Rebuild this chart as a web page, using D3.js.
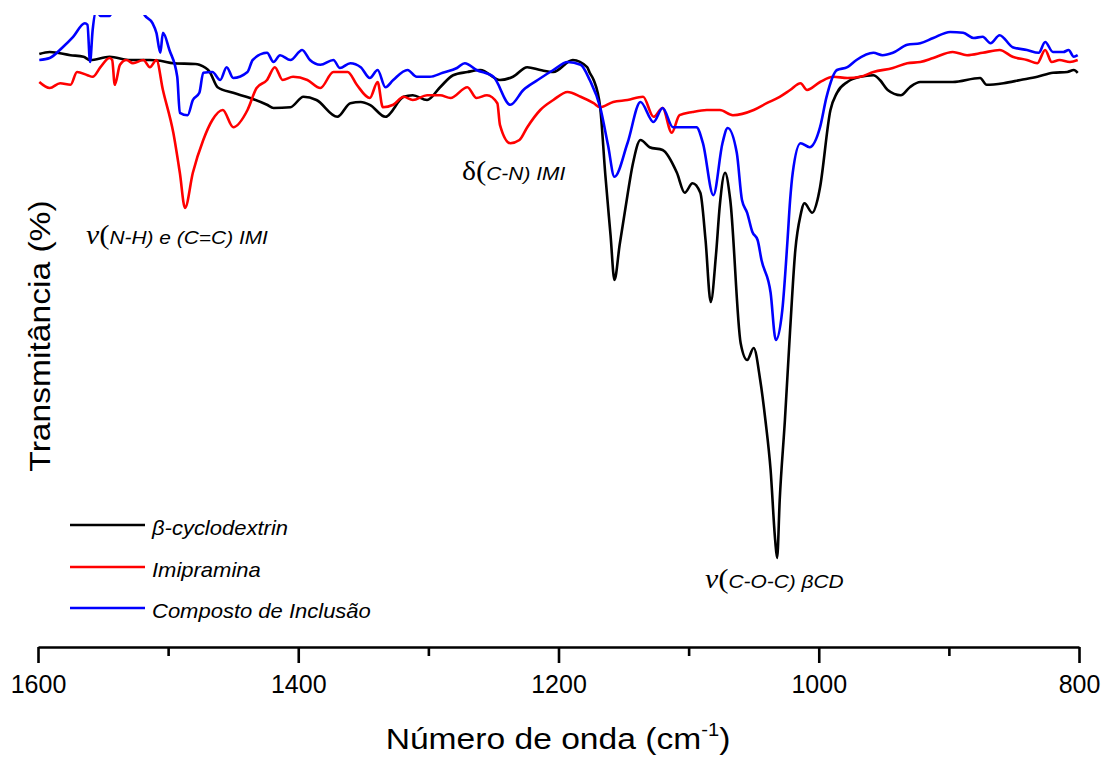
<!DOCTYPE html>
<html>
<head>
<meta charset="utf-8">
<script src="https://cdn.jsdelivr.net/npm/d3@7"></script>
<style>
  html, body { margin: 0; padding: 0; background: #fff; }
  svg { display: block; }
  text { font-family: "Liberation Sans", Arial, sans-serif; fill: #000; }
</style>
</head>
<body>
<svg id="chart" width="1103" height="760"></svg>
<script>
// FTIR spectra, 1600–800 cm-1 (wavenumber, transmittance in arbitrary %)
const seriesNames = ["β-cyclodextrin", "Imipramina", "Composto de Inclusão"];
const seriesColors = ["#000000", "#ff0000", "#0000ff"];

const betaCD = [
  [1599,74.25],[1591,74.5],[1575,74.1],[1565,73.9],[1560,73.5],[1545,73.9],[1529,73.5],[1514,73.5],
  [1506,73.4],[1496,73.1],[1479,73.0],[1476,72.9],[1468,72.0],[1462,70.1],[1450,69.4],[1437,68.75],
  [1424,67.9],[1419,67.5],[1406,67.6],[1396,68.9],[1386,68.5],[1370,66.4],[1360,68.1],[1352,68.25],
  [1345,67.9],[1333,66.4],[1319,68.9],[1312,69.1],[1301,68.5],[1291,70.1],[1281,71.6],[1270,72.0],
  [1260,72.25],[1245,71.0],[1235,71.4],[1224,72.6],[1214,72.25],[1204,72.0],[1189,73.5],[1178,72.6],
  [1176,71.9],[1173,71.0],[1168,67.6],[1164,59.1],[1160,51.6],[1157,46.0],[1153,50.4],[1147,56.6],
  [1143,60.4],[1137,63.5],[1130,62.6],[1120,62.25],[1109,59.4],[1103,56.9],[1097,58.1],[1091,56.9],
  [1087,51.0],[1083,43.25],[1079,49.1],[1076,55.4],[1072,59.4],[1068,56.0],[1060,38.1],[1055,36.0],
  [1050,37.5],[1045,33.5],[1041,28.5],[1037,22.25],[1033.5,13.5],[1032,11.25],[1030,18.5],[1026,28.5],
  [1022,39.75],[1018,49.75],[1014,54.1],[1011,55.6],[1005,54.4],[1001,56.0],[999,57.6],[991,67.25],
  [986,69.4],[978,70.75],[968,71.4],[958,71.6],[953,71.0],[947,69.75],[937,69.1],[930,70.1],
  [922,70.75],[897,70.75],[876,71.25],[871,70.4],[858,70.6],[845,71.0],[832,71.4],[820,71.9],
  [809,72.0],[804,72.25],[801,71.9]
];

const imipramina = [
  [1599,70.75],[1591,70.0],[1583,70.6],[1575,70.4],[1570,72.0],[1562,71.6],[1558,71.4],[1552,72.6],
  [1545,73.75],[1543,73.5],[1541,70.4],[1537,72.9],[1532,73.5],[1527,73.1],[1519,73.5],[1514,72.6],
  [1509,73.5],[1504,69.75],[1496,64.4],[1491,59.4],[1487,55.0],[1481,59.4],[1473,63.5],[1466,66.0],
  [1458,67.25],[1450,65.1],[1439,67.25],[1432,70.0],[1424,71.0],[1418,72.6],[1412,71.0],[1404,71.4],
  [1393,71.0],[1383,70.0],[1373,72.0],[1362,72.0],[1355,70.4],[1345,68.75],[1339,70.75],[1335,67.6],
  [1327,67.9],[1319,68.9],[1312,68.5],[1301,69.1],[1291,69.1],[1283,68.75],[1270,70.1],[1263,68.75],
  [1255,69.1],[1247,68.1],[1245,65.4],[1237,63.1],[1230,63.5],[1224,65.1],[1214,67.25],[1204,68.5],
  [1193,69.5],[1183,68.9],[1173,68.1],[1168,67.6],[1158,68.25],[1147,68.5],[1135,68.9],[1127,66.4],
  [1120,67.5],[1113,64.4],[1107,66.6],[1097,67.0],[1086,67.25],[1076,67.25],[1066,66.6],[1050,67.25],
  [1040,68.1],[1030,68.9],[1022,69.75],[1014,70.6],[1009,69.75],[999,70.75],[989,71.4],[978,71.25],
  [968,71.4],[958,72.0],[943,72.5],[932,73.1],[922,73.25],[912,73.75],[897,74.5],[886,74.1],
  [874,74.4],[861,74.75],[851,73.9],[840,73.5],[832,73.1],[826,74.75],[821,73.25],[815,73.5],
  [807,73.25],[801,73.5]
];

const composto = [
  [1599,73.5],[1591,73.75],[1581,75.1],[1573,76.4],[1564,78.1],[1562,77.9],[1560,73.25],[1558,77.25],
  [1555,79.75],[1552,79.0],[1545,79.0],[1541,80.4],[1529,81.0],[1522,80.4],[1518,79.1],[1512,78.1],
  [1509,76.9],[1506,74.4],[1504,76.9],[1499,74.75],[1493,71.4],[1491,66.9],[1485,66.6],[1481,68.5],
  [1476,69.4],[1473,71.9],[1466,72.0],[1460,71.0],[1455,72.6],[1450,71.25],[1439,72.0],[1435,73.5],
  [1424,74.4],[1419,73.25],[1414,74.1],[1406,73.5],[1397,74.75],[1391,73.5],[1383,72.9],[1373,73.5],
  [1368,72.5],[1360,73.1],[1352,72.6],[1345,71.25],[1339,72.25],[1333,70.1],[1327,71.0],[1316,72.25],
  [1309,71.4],[1299,71.4],[1289,71.9],[1278,72.5],[1272,73.1],[1263,72.25],[1250,71.4],[1237,67.9],
  [1227,69.75],[1216,71.0],[1204,72.25],[1193,73.25],[1183,72.9],[1176,71.0],[1168,67.6],[1162,62.9],
  [1157,58.9],[1147,63.1],[1137,68.25],[1127,65.75],[1120,67.5],[1112,65.1],[1094,65.1],[1089,63.1],
  [1081,56.6],[1074,63.1],[1070,65.0],[1063,61.9],[1059,56.0],[1055,54.4],[1051,52.0],[1047,51.0],
  [1044,48.5],[1037,44.4],[1033,38.5],[1028,42.25],[1024,51.0],[1022,56.0],[1020,59.4],[1014,63.1],
  [1007,62.6],[999,65.1],[994,68.9],[986,72.25],[978,72.6],[971,73.5],[958,74.4],[951,74.1],
  [943,74.4],[932,75.4],[922,75.6],[912,76.25],[899,77.0],[889,76.9],[881,76.25],[874,76.4],
  [868,75.6],[861,76.6],[851,75.1],[840,74.75],[831,74.4],[826,75.75],[820,74.5],[812,74.5],
  [808,74.75],[804,73.9],[801,74.1]
];

const majorTicks = [1600, 1400, 1200, 1000, 800];
const minorTicks = [1500, 1300, 1100, 900];

const svg = d3.select("#chart");
const plotLeft = 38, plotRight = 1079, plotBottom = 647, plotTop = 15;

const x = d3.scaleLinear().domain([1600, 800]).range([plotLeft, plotRight]);
const y = d3.scaleLinear().domain([0, 80]).range([648, 8]);

svg.append("defs").append("clipPath").attr("id", "plotClip")
  .append("rect").attr("x", plotLeft).attr("y", plotTop)
  .attr("width", plotRight - plotLeft).attr("height", plotBottom - plotTop);

const line = d3.line()
  .x(d => x(d[0])).y(d => y(d[1]))
  .curve(d3.curveMonotoneX);

const plot = svg.append("g").attr("clip-path", "url(#plotClip)");
// draw order: black, red, blue on top
[betaCD, imipramina, composto].forEach((data, i) => {
  plot.append("path")
    .datum(data)
    .attr("fill", "none")
    .attr("stroke", seriesColors[i])
    .attr("stroke-width", 2.6)
    .attr("stroke-linejoin", "round")
    .attr("d", line);
});

// bottom axis
const axisMajor = d3.axisBottom(x).tickValues(majorTicks)
  .tickSize(16).tickSizeOuter(0).tickPadding(12).tickFormat(d3.format("d"));
const gAxis = svg.append("g").attr("transform", `translate(0,${plotBottom})`).call(axisMajor);
gAxis.select(".domain").attr("stroke", "#000").attr("stroke-width", 2.6);
gAxis.selectAll(".tick line").attr("stroke", "#000").attr("stroke-width", 2.6);
gAxis.selectAll(".tick text")
  .attr("font-family", '"Liberation Sans", Arial, sans-serif')
  .attr("font-size", 25).attr("fill", "#000");

const axisMinor = d3.axisBottom(x).tickValues(minorTicks)
  .tickSize(9).tickSizeOuter(0).tickFormat("");
const gMinor = svg.append("g").attr("transform", `translate(0,${plotBottom})`).call(axisMinor);
gMinor.select(".domain").remove();
gMinor.selectAll(".tick line").attr("stroke", "#000").attr("stroke-width", 2.6);

// axis titles
const xTitle = svg.append("text")
  .attr("transform", "translate(558,749) scale(1.12,1)")
  .attr("text-anchor", "middle").attr("font-size", 30);
xTitle.append("tspan").text("Número de onda (cm");
xTitle.append("tspan").attr("font-size", 18).attr("dy", -13).text("-1");
xTitle.append("tspan").attr("dy", 13).text(")");

svg.append("text")
  .attr("transform", "translate(50,336) rotate(-90) scale(1.12,1)")
  .attr("text-anchor", "middle").attr("font-size", 30)
  .text("Transmitância (%)");

// legend
const legendY = [525, 567, 608];
seriesNames.forEach((name, i) => {
  svg.append("line")
    .attr("x1", 70).attr("x2", 145)
    .attr("y1", legendY[i]).attr("y2", legendY[i])
    .attr("stroke", seriesColors[i]).attr("stroke-width", 2.6);
  svg.append("text")
    .attr("transform", `translate(152,${legendY[i] + 10}) scale(1.1,1)`)
    .attr("font-size", 20).attr("font-style", "italic")
    .text(name);
});

// band annotations: serif symbol + bracket, then italic sans label
function annotate(xp, yp, sym, symItalic, rest) {
  const t = svg.append("text")
    .attr("transform", `translate(${xp},${yp}) scale(1.1,1)`);
  t.append("tspan").attr("font-family", '"Liberation Serif", "Times New Roman", serif')
    .attr("font-size", 27).attr("font-style", symItalic ? "italic" : "normal").text(sym);
  t.append("tspan").attr("font-family", '"Liberation Serif", "Times New Roman", serif')
    .attr("font-size", 28).text("(");
  t.append("tspan").attr("font-size", 19).attr("font-style", "italic").text(rest);
}
annotate(86, 244, "ν", true, "N-H) e (C=C) IMI");
annotate(462, 180, "δ", false, "C-N) IMI");
annotate(705, 588, "ν", true, "C-O-C) βCD");
</script>
</body>
</html>
